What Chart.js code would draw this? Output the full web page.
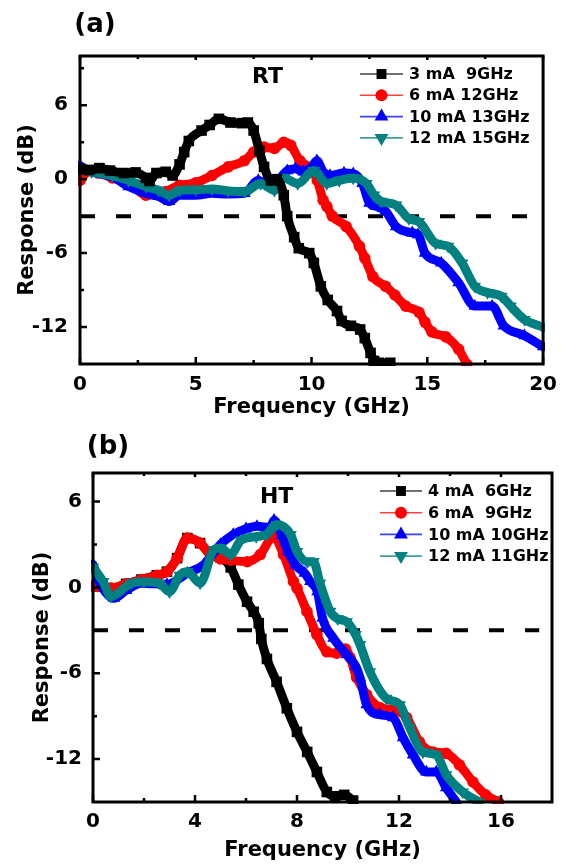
<!DOCTYPE html>
<html><head><meta charset="utf-8">
<script src="https://cdn.jsdelivr.net/npm/chart.js@4"></script>
<style>
html,body{margin:0;padding:0;background:#fff;}
#wrap{position:relative;width:566px;height:864px;overflow:hidden;}
#ca{position:absolute;left:0;top:0;}
#cb{position:absolute;left:0;top:420px;}
</style></head><body>
<div id="wrap">
<canvas id="ca" width="566" height="420"></canvas>
<canvas id="cb" width="566" height="444"></canvas>
</div>
<script>
// ---------- Panel (a) RT ----------
const aLabels = ['3 mA  9GHz', '6 mA 12GHz', '10 mA 13GHz', '12 mA 15GHz'];
const aXTicks = [0, 5, 10, 15, 20];
const aXMinor = [2.5, 7.5, 12.5, 17.5];
const aYTicks = [-12, -6, 0, 6];
const aYMinor = [-9, -3, 3, 9];

const aFreq1 = [0, 0.4, 0.84, 1.3, 1.9, 2.4, 2.85, 3.0, 3.3, 3.7, 4.0, 4.3, 4.5, 4.7, 5.25, 5.6, 6.0, 6.5, 7.0, 7.25, 7.5, 7.75, 7.95, 8.25, 8.5, 8.8, 8.95, 9.25, 9.45, 9.9, 10.1, 10.4, 10.7, 11.1, 11.3, 11.7, 12.1, 12.3, 12.55, 12.7, 12.9, 13.4];
const aResp1 = [0.8, 0.75, 0.9, 0.7, 0.5, 0.55, 0.1, -0.15, 0.5, 0.6, 0.3, 1.2, 2.2, 3.1, 3.95, 4.4, 4.9, 4.6, 4.55, 4.6, 3.95, 2.3, 1.0, -0.1, 0.0, -1.3, -3.0, -4.7, -5.6, -6.0, -6.8, -8.7, -9.8, -10.7, -11.5, -11.9, -12.2, -12.9, -14.1, -14.75, -14.9, -14.9];

const aFreq2 = [0, 0.43, 0.8, 1.4, 2.1, 2.85, 3.3, 3.7, 4.3, 5.0, 5.7, 6.4, 7.1, 7.5, 7.95, 8.4, 8.8, 9.1, 9.5, 9.95, 10.25, 10.5, 10.66, 10.9, 11.5, 12.07, 12.3, 12.65, 13.2, 13.6, 14.07, 14.64, 14.9, 15.2, 15.8, 16.35, 16.7];
const aResp2 = [-0.1, 0.7, 0.5, 0.1, -0.3, -1.3, -1.2, -1.0, -0.5, -0.3, 0.3, 1.0, 1.5, 2.2, 2.6, 2.5, 3.0, 2.75, 1.5, 0.9, -0.1, -1.7, -2.2, -3.0, -3.85, -5.45, -6.4, -7.9, -8.7, -9.4, -10.3, -10.8, -11.6, -12.4, -12.8, -13.8, -15];

const aFreq3 = [0, 0.5, 1.4, 2.1, 2.85, 3.4, 3.85, 4.3, 5.0, 5.7, 6.4, 7.1, 7.7, 8.25, 8.95, 9.3, 9.65, 10.0, 10.23, 10.5, 10.8, 11.4, 11.8, 12.2, 12.5, 12.8, 13.2, 13.65, 14.35, 14.6, 14.9, 15.6, 16.35, 17.05, 17.8, 18.3, 19.2, 20];
const aResp3 = [1.1, 0.6, 0.2, -0.6, -1.15, -1.4, -1.8, -1.3, -1.3, -1.15, -1.2, -1.15, -0.1, -0.6, 0.7, 0.85, 0.6, 1.0, 1.5, 0.6, 0.3, 0.5, 0.45, -0.35, -1.95, -2.2, -2.6, -3.85, -4.35, -4.5, -6.0, -6.8, -8.4, -10.3, -10.3, -11.9, -12.7, -13.6];

const aFreq4 = [0, 0.5, 1.4, 2.1, 2.85, 3.4, 3.85, 4.3, 5.0, 5.7, 6.4, 7.1, 7.8, 8.4, 8.8, 9.4, 10.1, 10.66, 11.2, 11.8, 12.37, 12.7, 13.0, 13.65, 14.2, 14.64, 15.36, 15.9, 16.5, 17.05, 17.6, 18.2, 18.6, 19.2, 20];
const aResp4 = [0.9, 0.6, 0.3, -0.1, -0.6, -0.9, -1.3, -0.9, -0.85, -0.8, -0.95, -1.0, -0.35, -0.9, 0.1, -0.35, 0.7, -0.35, -0.1, 0.1, -0.35, -1.3, -1.8, -2.1, -3.2, -3.45, -5.2, -5.45, -6.8, -8.7, -9.2, -9.5, -10.3, -11.4, -12.0];

// ---------- Panel (b) HT ----------
const bLabels = ['4 mA  6GHz', '6 mA  9GHz', '10 mA 10GHz', '12 mA 11GHz'];
const bXTicks = [0, 4, 8, 12, 16];
const bXMinor = [2, 6, 10, 14];
const bYTicks = [-12, -6, 0, 6];
const bYMinor = [-9, -3, 3];

const bFreq1 = [0, 0.18, 0.7, 1.3, 1.9, 2.5, 2.9, 3.3, 3.7, 4.2, 4.6, 5.0, 5.4, 5.7, 6.04, 6.3, 6.5, 6.6, 6.82, 7.2, 7.6, 8.0, 8.4, 8.78, 9.17, 9.5, 9.85, 10.2];
const bResp1 = [0.1, 0.07, -0.05, 0.25, 0.55, 0.85, 1.1, 2.05, 3.45, 3.1, 2.3, 2.1, 1.4, 0.2, -1.0, -1.7, -2.5, -3.6, -5.0, -6.6, -8.45, -10.1, -11.5, -12.9, -14.3, -14.6, -14.5, -14.9];

const bFreq2 = [0, 0.18, 0.7, 1.3, 1.9, 2.5, 2.9, 3.3, 3.7, 4.2, 4.6, 5.0, 5.4, 6.05, 6.56, 7.08, 7.47, 7.86, 8.0, 8.39, 8.78, 9.17, 9.56, 9.9, 10.08, 10.34, 10.73, 11.25, 11.77, 12.3, 12.8, 13.33, 13.85, 14.37, 14.9, 15.4, 15.9];
const bResp2 = [0.1, 0.07, -0.05, 0.25, 0.55, 0.85, 1.1, 2.05, 3.45, 3.1, 2.3, 2.0, 1.9, 1.8, 2.3, 3.55, 2.3, 0.42, -0.05, -1.68, -3.3, -4.5, -4.6, -4.3, -4.9, -6.3, -7.5, -8.4, -8.55, -9.1, -10.8, -11.5, -11.6, -12.4, -13.6, -14.5, -15];

const bFreq3 = [0, 0.3, 0.82, 1.3, 1.9, 2.9, 3.7, 4.35, 5.0, 5.5, 6.0, 6.43, 6.95, 7.1, 7.4, 7.65, 7.95, 8.3, 8.52, 8.8, 9.0, 9.43, 9.95, 10.3, 10.47, 10.73, 11.25, 11.77, 12.16, 12.55, 13.07, 13.46, 13.85, 14.25];
const bResp3 = [1.6, 0.2, -0.75, -0.2, 0.3, 0.2, 1.0, 1.6, 3.0, 3.7, 4.1, 4.27, 4.2, 4.7, 3.65, 2.5, 1.55, 1.0, 0.42, -0.3, -2.15, -3.55, -4.7, -5.5, -6.3, -8.2, -8.9, -9.1, -10.5, -11.7, -12.9, -12.9, -14.0, -15];

const bFreq4 = [0, 0.4, 0.7, 1.5, 2.0, 2.6, 3.0, 3.4, 3.7, 4.2, 4.75, 5.0, 5.4, 5.8, 6.4, 6.8, 7.2, 7.75, 8.0, 8.4, 8.65, 8.9, 9.3, 9.6, 9.95, 10.3, 10.47, 10.86, 11.5, 12.03, 12.42, 12.94, 13.46, 13.85, 14.5, 15.15];
const bResp4 = [1.4, 0.4, -0.63, 0.3, 0.4, 0.3, -0.3, 0.85, 1.1, 0.3, 2.65, 2.75, 2.3, 3.3, 3.55, 3.7, 4.4, 3.7, 2.5, 1.8, 1.8, 0.3, -1.68, -2.2, -2.4, -3.3, -4.0, -5.9, -7.75, -8.2, -9.8, -11.5, -11.7, -13.1, -14.3, -15];

const colors = ['#000000', '#ff0000', '#0000ff', '#008080'];
const styles = ['rect', 'circle', 'triangle', 'triangle'];
const rots = [0, 0, 0, 180];
const radii = [7.5, 5.8, 7.2, 7.2];
const FONT = "'DejaVu Sans', sans-serif";

function series(freq, resp) { return freq.map((x, i) => ({x: x, y: resp[i]})); }

function drawMarker(ctx, style, rot, x, y, r, color) {
  ctx.fillStyle = color;
  ctx.beginPath();
  if (style === 'rect') {
    const s = r * Math.SQRT1_2;
    ctx.rect(x - s, y - s, 2 * s, 2 * s);
  } else if (style === 'circle') {
    ctx.arc(x, y, r, 0, Math.PI * 2);
  } else {
    let a = rot * Math.PI / 180;
    for (let k = 0; k < 3; k++) {
      const px = x + Math.sin(a) * r, py = y - Math.cos(a) * r;
      if (k === 0) ctx.moveTo(px, py); else ctx.lineTo(px, py);
      a += Math.PI * 2 / 3;
    }
    ctx.closePath();
  }
  ctx.fill();
}

const decor = {
  id: 'decor',
  afterDraw(chart, args, o) {
    const ctx = chart.ctx;
    const {left, right, top, bottom} = chart.chartArea;
    const xs = chart.scales.x, ys = chart.scales.y;
    ctx.save();
    ctx.strokeStyle = '#000';
    ctx.lineWidth = 2.5;
    ctx.beginPath();
    o.xMajor.forEach(v => { const p = xs.getPixelForValue(v); ctx.moveTo(p, bottom); ctx.lineTo(p, bottom - 7); ctx.moveTo(p, top); ctx.lineTo(p, top + 4); });
    o.xMinor.forEach(v => { const p = xs.getPixelForValue(v); ctx.moveTo(p, bottom); ctx.lineTo(p, bottom - 4); ctx.moveTo(p, top); ctx.lineTo(p, top + 3); });
    o.yMajor.forEach(v => { const p = ys.getPixelForValue(v); ctx.moveTo(left, p); ctx.lineTo(left + 7, p); });
    o.yMinor.forEach(v => { const p = ys.getPixelForValue(v); ctx.moveTo(left, p); ctx.lineTo(left + 4, p); });
    ctx.stroke();
    ctx.lineWidth = 3;
    ctx.strokeRect(left, top, right - left, bottom - top);
    const L = o.legend;
    ctx.font = 'bold 16px ' + FONT;
    ctx.textBaseline = 'middle';
    ctx.textAlign = 'left';
    o.labels.forEach((lab, i) => {
      const y = L.y + i * L.dy;
      ctx.strokeStyle = colors[i];
      ctx.globalAlpha = 0.75;
      ctx.lineWidth = 1.6;
      ctx.beginPath(); ctx.moveTo(L.x, y); ctx.lineTo(L.x + L.len, y); ctx.stroke();
      ctx.globalAlpha = 1;
      drawMarker(ctx, styles[i], rots[i], L.x + L.len / 2, y, [7, 6, 8, 8][i], colors[i]);
      ctx.fillStyle = '#000';
      ctx.fillText(lab, L.textX, y + 1);
    });
    ctx.font = 'bold 22px ' + FONT;
    ctx.textAlign = 'center';
    ctx.fillStyle = '#000';
    ctx.fillText(o.tag.text, xs.getPixelForValue(o.tag.x), ys.getPixelForValue(o.tag.y));
    ctx.font = 'bold 26px ' + FONT;
    ctx.fillText(o.panel.text, o.panel.px, o.panel.py);
    ctx.restore();
  }
};

function makeChart(id, cfg) {
  const ds = cfg.data.map((d, i) => ({
    label: cfg.labels[i], data: d,
    borderColor: colors[i], backgroundColor: colors[i],
    borderWidth: 9, pointStyle: styles[i], pointRotation: rots[i],
    pointRadius: radii[i], pointBorderWidth: 0, pointBackgroundColor: colors[i],
    cubicInterpolationMode: 'monotone', order: cfg.order[i], clip: 2,
    borderJoinStyle: 'round', borderCapStyle: 'round'
  }));
  ds.push({label: '-3 dB', data: [{x: 0, y: -3}, {x: cfg.dashEnd, y: -3}],
    borderColor: '#000', borderWidth: 4, borderDash: [15, 21], pointRadius: 0, order: 10, clip: 0});
  return new Chart(document.getElementById(id), {
    type: 'line',
    data: {datasets: ds},
    plugins: [decor],
    options: {
      responsive: false, animation: false,
      layout: {padding: {left: 0, top: cfg.padTop, right: cfg.padRight, bottom: 0}},
      plugins: {legend: {display: false}, tooltip: {enabled: false},
        decor: {xMajor: cfg.xTicks, xMinor: cfg.xMinor, yMajor: cfg.yTicks, yMinor: cfg.yMinor,
          labels: cfg.labels, legend: cfg.legend, tag: cfg.tag, panel: cfg.panel}},
      scales: {
        x: {type: 'linear', min: 0, max: cfg.xMax,
          afterBuildTicks: s => { s.ticks = cfg.xTicks.map(v => ({value: v})); },
          afterFit: s => { s.height = cfg.xHeight; },
          ticks: {color: '#000', font: {family: FONT, size: 20, weight: 'bold'}, padding: cfg.xPad, maxRotation: 0, autoSkip: false},
          grid: {display: false, drawTicks: false}, border: {display: false},
          title: {display: true, text: 'Frequency (GHz)', color: '#000', font: {family: FONT, size: 21, weight: 'bold'}, padding: {top: 0, bottom: cfg.xTitlePad}}},
        y: {type: 'linear', min: -15, max: cfg.yMax,
          afterBuildTicks: s => { s.ticks = cfg.yTicks.map(v => ({value: v})); },
          afterFit: s => { s.width = cfg.yWidth; },
          ticks: {color: '#000', font: {family: FONT, size: 20, weight: 'bold'}, padding: cfg.yPad, autoSkip: false},
          grid: {display: false, drawTicks: false}, border: {display: false},
          title: {display: true, text: 'Response (dB)', color: '#000', font: {family: FONT, size: 21, weight: 'bold'}, padding: {top: cfg.yTitlePad, bottom: 0}}}
      }
    }
  });
}

makeChart('ca', {
  labels: aLabels,
  data: [series(aFreq1, aResp1), series(aFreq2, aResp2), series(aFreq3, aResp3), series(aFreq4, aResp4)],
  order: [0, 3, 2, 1],
  xTicks: aXTicks, xMinor: aXMinor, yTicks: aYTicks, yMinor: aYMinor,
  xMax: 20, yMax: 10, dashEnd: 19.5,
  padTop: 56, padRight: 17, xHeight: 56, yWidth: 80, xPad: 9, yPad: 12, xTitlePad: 0, yTitlePad: 15,
  legend: {x: 360, y: 74, dy: 21.3, len: 43, textX: 409},
  tag: {text: 'RT', x: 8.1, y: 8.25},
  panel: {text: '(a)', px: 95, py: 25}
});

makeChart('cb', {
  labels: bLabels,
  data: [series(bFreq1, bResp1), series(bFreq2, bResp2), series(bFreq3, bResp3), series(bFreq4, bResp4)],
  order: [4, 3, 2, 1],
  xTicks: bXTicks, xMinor: bXMinor, yTicks: bYTicks, yMinor: bYMinor,
  xMax: 18, yMax: 8, dashEnd: 17.5,
  padTop: 53, padRight: 14, xHeight: 62, yWidth: 93, xPad: 8, yPad: 11, xTitlePad: 1, yTitlePad: 30,
  legend: {x: 380, y: 71, dy: 21.7, len: 42, textX: 428},
  tag: {text: 'HT', x: 7.2, y: 6.3},
  panel: {text: '(b)', px: 108, py: 27}
});
</script>
</body></html>
